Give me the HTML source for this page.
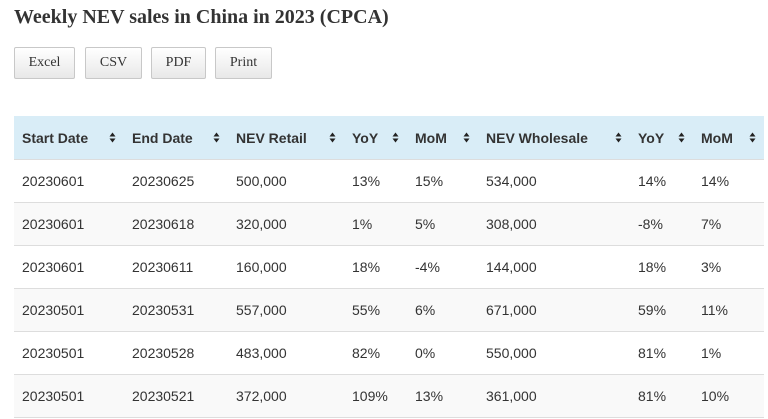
<!DOCTYPE html>
<html>
<head>
<meta charset="utf-8">
<style>
  html, body { margin:0; padding:0; background:#fff; }
  body { width:768px; height:419px; overflow:hidden; position:relative; font-family:"Liberation Sans", Arial, sans-serif; color:#333; }
  h1 { position:absolute; left:14px; top:3px; margin:0; font-family:"Liberation Serif", serif; font-weight:bold; font-size:20px; line-height:28px; color:#333; white-space:nowrap; }
  .btn { position:absolute; top:47px; height:30px; border:1px solid #c8c8c8; border-radius:2px; background:linear-gradient(#ffffff, #e8e8e8); font-family:"Liberation Serif", serif; font-size:14px; color:#333; line-height:30px; text-align:center; box-sizing:content-box; }
  table { position:absolute; left:14px; top:116px; border-collapse:collapse; table-layout:fixed; width:750px; }
  th, td { padding:0 0 0 8px; height:42px; text-align:left; font-size:14px; white-space:nowrap; }
  th { background:#d9edf7; font-weight:bold; color:#333; position:relative; height:43px; }
  td { border-top:1px solid #ddd; color:#333; }
  tr.s td { background:#f9f9f9; }
  tbody tr:last-child td { border-bottom:1px solid #ddd; }
  .si { position:absolute; right:8px; top:15px; width:7px; height:13px; }
</style>
</head>
<body>
<h1>Weekly NEV sales in China in 2023 (CPCA)</h1>
<div class="btn" style="left:14px;width:59px;">Excel</div>
<div class="btn" style="left:85px;width:55px;">CSV</div>
<div class="btn" style="left:151px;width:53px;">PDF</div>
<div class="btn" style="left:215px;width:55px;">Print</div>

<table>
<colgroup>
<col style="width:110px"><col style="width:104px"><col style="width:116px"><col style="width:63px"><col style="width:71px"><col style="width:152px"><col style="width:63px"><col style="width:71px">
</colgroup>
<thead>
<tr>
<th>Start Date<svg class="si" viewBox="0 0 7 13"><path d="M0.5 5.5 L3.5 1.5 L6.5 5.5 Z M0.5 7.5 L3.5 11.5 L6.5 7.5 Z" fill="#222"/></svg></th>
<th>End Date<svg class="si" viewBox="0 0 7 13"><path d="M0.5 5.5 L3.5 1.5 L6.5 5.5 Z M0.5 7.5 L3.5 11.5 L6.5 7.5 Z" fill="#222"/></svg></th>
<th>NEV Retail<svg class="si" viewBox="0 0 7 13"><path d="M0.5 5.5 L3.5 1.5 L6.5 5.5 Z M0.5 7.5 L3.5 11.5 L6.5 7.5 Z" fill="#222"/></svg></th>
<th>YoY<svg class="si" viewBox="0 0 7 13"><path d="M0.5 5.5 L3.5 1.5 L6.5 5.5 Z M0.5 7.5 L3.5 11.5 L6.5 7.5 Z" fill="#222"/></svg></th>
<th>MoM<svg class="si" viewBox="0 0 7 13"><path d="M0.5 5.5 L3.5 1.5 L6.5 5.5 Z M0.5 7.5 L3.5 11.5 L6.5 7.5 Z" fill="#222"/></svg></th>
<th>NEV Wholesale<svg class="si" viewBox="0 0 7 13"><path d="M0.5 5.5 L3.5 1.5 L6.5 5.5 Z M0.5 7.5 L3.5 11.5 L6.5 7.5 Z" fill="#222"/></svg></th>
<th>YoY<svg class="si" viewBox="0 0 7 13"><path d="M0.5 5.5 L3.5 1.5 L6.5 5.5 Z M0.5 7.5 L3.5 11.5 L6.5 7.5 Z" fill="#222"/></svg></th>
<th>MoM<svg class="si" viewBox="0 0 7 13"><path d="M0.5 5.5 L3.5 1.5 L6.5 5.5 Z M0.5 7.5 L3.5 11.5 L6.5 7.5 Z" fill="#222"/></svg></th>
</tr>
</thead>
<tbody>
<tr><td>20230601</td><td>20230625</td><td>500,000</td><td>13%</td><td>15%</td><td>534,000</td><td>14%</td><td>14%</td></tr>
<tr class="s"><td>20230601</td><td>20230618</td><td>320,000</td><td>1%</td><td>5%</td><td>308,000</td><td>-8%</td><td>7%</td></tr>
<tr><td>20230601</td><td>20230611</td><td>160,000</td><td>18%</td><td>-4%</td><td>144,000</td><td>18%</td><td>3%</td></tr>
<tr class="s"><td>20230501</td><td>20230531</td><td>557,000</td><td>55%</td><td>6%</td><td>671,000</td><td>59%</td><td>11%</td></tr>
<tr><td>20230501</td><td>20230528</td><td>483,000</td><td>82%</td><td>0%</td><td>550,000</td><td>81%</td><td>1%</td></tr>
<tr class="s"><td>20230501</td><td>20230521</td><td>372,000</td><td>109%</td><td>13%</td><td>361,000</td><td>81%</td><td>10%</td></tr>
</tbody>
</table>
</body>
</html>
